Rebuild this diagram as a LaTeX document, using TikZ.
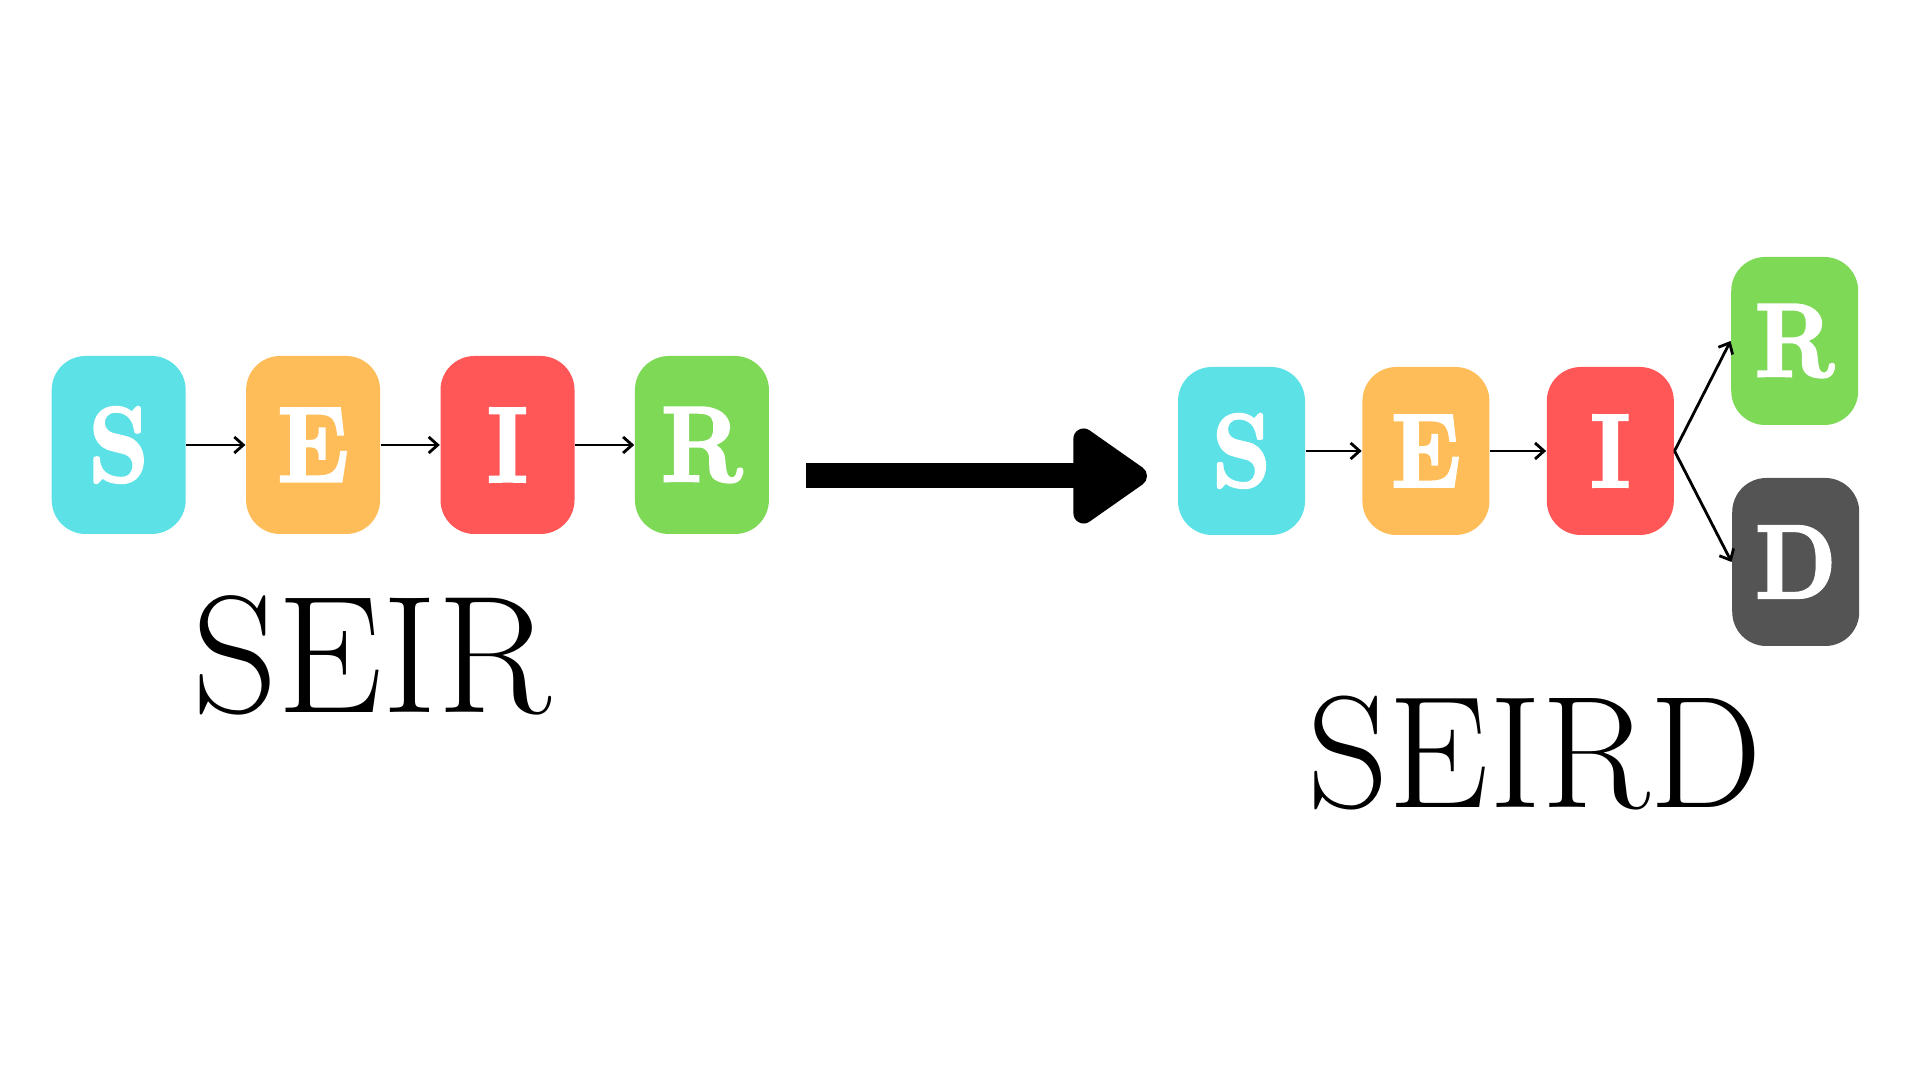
\documentclass[tikz,border=0pt]{standalone}
\usepackage{fontspec}
\usetikzlibrary{arrows.meta,positioning}
\newfontfamily\boxletter{lmroman10-bold.otf}[FakeStretch=0.88,FakeBold=2.2]

\definecolor{colS}{HTML}{5CE1E6}
\definecolor{colE}{HTML}{FFBD59}
\definecolor{colI}{HTML}{FF5757}
\definecolor{colR}{HTML}{7ED957}
\definecolor{colD}{HTML}{545454}

\begin{document}
\begin{tikzpicture}[flow/.style={-{Straight Barb[length=0.9mm,width=1.6mm]},line width=0.8pt},
                    node distance=0.59cm]
  \tikzstyle{compartment}=[rounded corners=0.34cm,minimum width=1.34cm,minimum height=1.78cm,
                           inner sep=0pt,text=white,font=\boxletter\fontsize{30.6}{31}\selectfont]
  \tikzstyle{small compartment}=[compartment,minimum width=1.27cm,minimum height=1.68cm,
                                 font=\boxletter\fontsize{29.8}{30}\selectfont]
  \tikzstyle{model name}=[anchor=base,inner sep=0pt]

  \useasboundingbox (0,0) rectangle (19.2,10.8);

  % SEIR
  \node[compartment,fill=colS] (s1) at (1.187,6.35) {S};
  \node[compartment,fill=colE] (e1) [right=of s1]   {E};
  \node[compartment,fill=colI] (i1) [right=of e1]   {I};
  \node[compartment,fill=colR] (r1) [right=of i1]   {R};

  \draw[flow] (s1) -- (e1);
  \draw[flow] (e1) -- (i1);
  \draw[flow] (i1) -- (r1);

  \node[model name] (seir) at (3.72,3.67) {\fontsize{47.6}{52}\selectfont SEIR};

  % big arrow
  \coordinate (mstart) at (8.06,6.04);
  \coordinate (mend)   at (11.47,6.04);
  \draw[line width=0.25cm,-{Triangle[length=0.82cm,width=1.08cm,round]}] (mstart) -- (mend);

  % SEIRD
  \node[small compartment,fill=colS] (s2) at (12.415,6.29)     {S};
  \node[small compartment,fill=colE] (e2) [right=0.56cm of s2] {E};
  \node[small compartment,fill=colI] (i2) [right=0.56cm of e2] {I};
  \node[small compartment,fill=colR] (r2) [right=0.56cm of i2,yshift=1.1cm]  {R};
  \node[small compartment,fill=colD] (d2) [right=0.57cm of i2,yshift=-1.11cm] {D};

  \draw[flow] (s2) -- (e2);
  \draw[flow] (e2) -- (i2);
  \draw[flow] (i2.east) -- (r2.west);
  \draw[flow] (i2.east) -- (d2.west);

  \node[model name] (seird) at (15.35,2.72) {\fontsize{45.4}{50}\selectfont SEIRD};
\end{tikzpicture}
\end{document}
